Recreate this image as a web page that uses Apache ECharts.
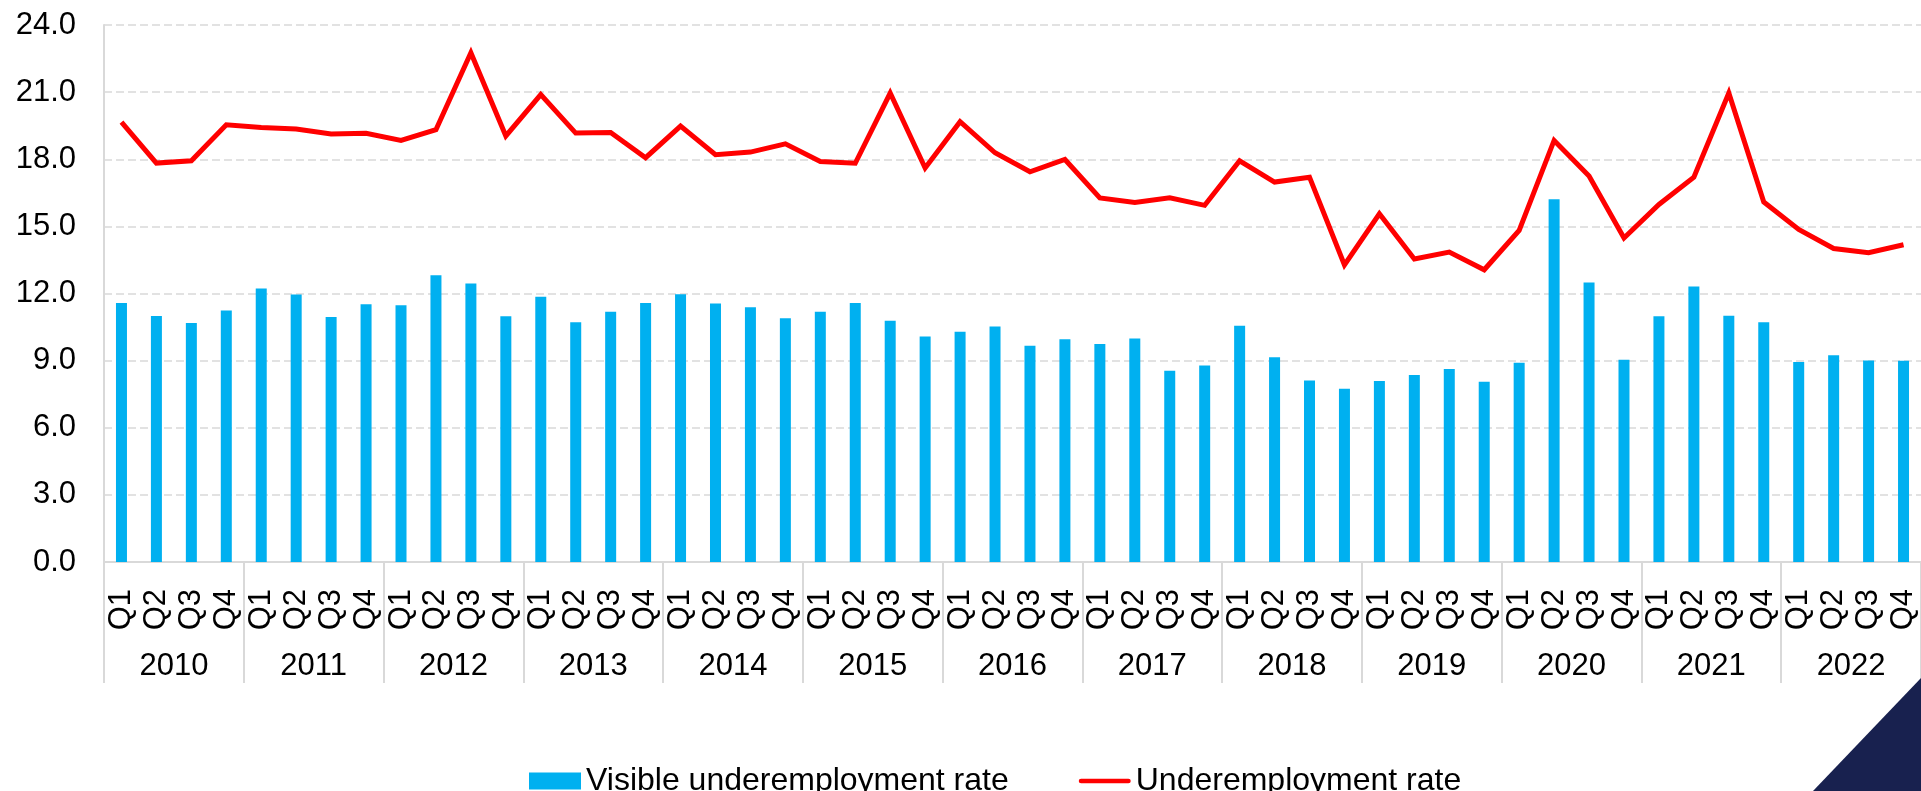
<!DOCTYPE html>
<html>
<head>
<meta charset="utf-8">
<title>Underemployment rate</title>
<script src="https://cdn.jsdelivr.net/npm/echarts@6/dist/echarts.min.js"></script>
<style>
  html, body { margin: 0; padding: 0; background: #ffffff; }
  #chart { width: 1921px; height: 791px; }
</style>
</head>
<body>
<div id="chart"></div>
<script>
// Quarterly periods, 2010 Q1 to 2022 Q4
const years = ['2010', '2011', '2012', '2013', '2014', '2015', '2016',
               '2017', '2018', '2019', '2020', '2021', '2022'];
const quarters = ['Q1', 'Q2', 'Q3', 'Q4'];

// Visible underemployment rate (%), one value per quarter
const visibleRate = [
  11.58, 10.99, 10.68, 11.24,
  12.22, 11.96, 10.95, 11.52,
  11.48, 12.82, 12.45, 10.98,
  11.85, 10.72, 11.18, 11.57,
  11.97, 11.55, 11.38, 10.89,
  11.18, 11.58, 10.78, 10.08,
  10.29, 10.53, 9.67, 9.95,
  9.74, 9.99, 8.55, 8.78,
  10.56, 9.15, 8.11, 7.74,
  8.09, 8.36, 8.63, 8.06,
  8.91, 16.21, 12.49, 9.04,
  10.98, 12.31, 11.01, 10.72,
  8.94, 9.24, 9.01, 9.00
];

// Underemployment rate (%), one value per quarter
const underRate = [
  19.66, 17.83, 17.93, 19.54,
  19.42, 19.35, 19.13, 19.16,
  18.84, 19.32, 22.76, 19.04,
  20.89, 19.17, 19.20, 18.07,
  19.48, 18.20, 18.32, 18.69,
  17.90, 17.82, 20.96, 17.61,
  19.68, 18.29, 17.44, 17.99,
  16.27, 16.07, 16.28, 15.94,
  17.93, 16.98, 17.20, 13.28,
  15.56, 13.54, 13.85, 13.06,
  14.82, 18.84, 17.25, 14.48,
  15.98, 17.20, 20.96, 16.09,
  14.86, 14.01, 13.82, 14.18
];

// Y axis ticks
const yMin = 0, yMax = 24, yStep = 3;

const quarterLabels = [];
years.forEach(function () { quarters.forEach(function (q) { quarterLabels.push(q); }); });

const FONT = '"Liberation Sans", Arial, Helvetica, sans-serif';
const GRID_GRAY = '#D9D9D9';

const chart = echarts.init(document.getElementById('chart'), null, { renderer: 'canvas' });

chart.setOption({
  animation: false,
  backgroundColor: '#ffffff',
  textStyle: { fontFamily: FONT, color: '#000000' },
  grid: { left: 104, top: 25, width: 1825, height: 537, containLabel: false },
  legend: {
    left: 524,
    top: 760,
    itemWidth: 52,
    itemHeight: 17,
    itemGap: 70,
    textStyle: { fontFamily: FONT, fontSize: 32, color: '#000000' },
    data: [
      { name: 'Visible underemployment rate', icon: 'rect' },
      {
        name: 'Underemployment rate',
        icon: 'path://M2.5,0 L53.5,0 A2.5,2.5 0 0 1 53.5,5 L2.5,5 A2.5,2.5 0 0 1 2.5,0 Z'
      }
    ]
  },
  xAxis: [
    {
      type: 'category',
      data: quarterLabels,
      boundaryGap: true,
      axisLine: { show: true, lineStyle: { color: GRID_GRAY, width: 2 } },
      axisTick: { show: false },
      axisLabel: {
        interval: 0,
        rotate: 90,
        margin: 27,
        fontFamily: FONT,
        fontSize: 31,
        color: '#000000'
      },
      splitLine: { show: false }
    },
    {
      type: 'category',
      data: years,
      position: 'bottom',
      boundaryGap: true,
      axisLine: { show: false },
      axisTick: { show: true, length: 121, lineStyle: { color: GRID_GRAY, width: 2 } },
      axisLabel: {
        interval: 0,
        margin: 89,
        fontFamily: FONT,
        fontSize: 31,
        color: '#000000'
      },
      splitLine: { show: false }
    }
  ],
  yAxis: {
    type: 'value',
    min: yMin,
    max: yMax,
    interval: yStep,
    axisLine: { show: true, lineStyle: { color: GRID_GRAY, width: 2 } },
    axisTick: { show: false },
    axisLabel: {
      margin: 28,
      fontFamily: FONT,
      fontSize: 31,
      color: '#000000',
      formatter: function (v) { return v.toFixed(1); }
    },
    splitLine: { show: true, lineStyle: { color: GRID_GRAY, width: 1.5, type: [8, 4] } }
  },
  series: [
    {
      name: 'Visible underemployment rate',
      type: 'bar',
      xAxisIndex: 0,
      data: visibleRate,
      barWidth: 11,
      itemStyle: { color: '#00B0F0' }
    },
    {
      name: 'Underemployment rate',
      type: 'line',
      xAxisIndex: 0,
      data: underRate,
      symbol: 'none',
      lineStyle: { color: '#FF0000', width: 5, join: 'miter' },
      itemStyle: { color: '#FF0000' },
      z: 3
    }
  ],
  graphic: [
    {
      type: 'polygon',
      silent: true,
      shape: { points: [[1813, 791], [1921, 678], [1921, 791]] },
      style: { fill: '#18214F' },
      z: 10
    }
  ]
});
</script>
</body>
</html>
